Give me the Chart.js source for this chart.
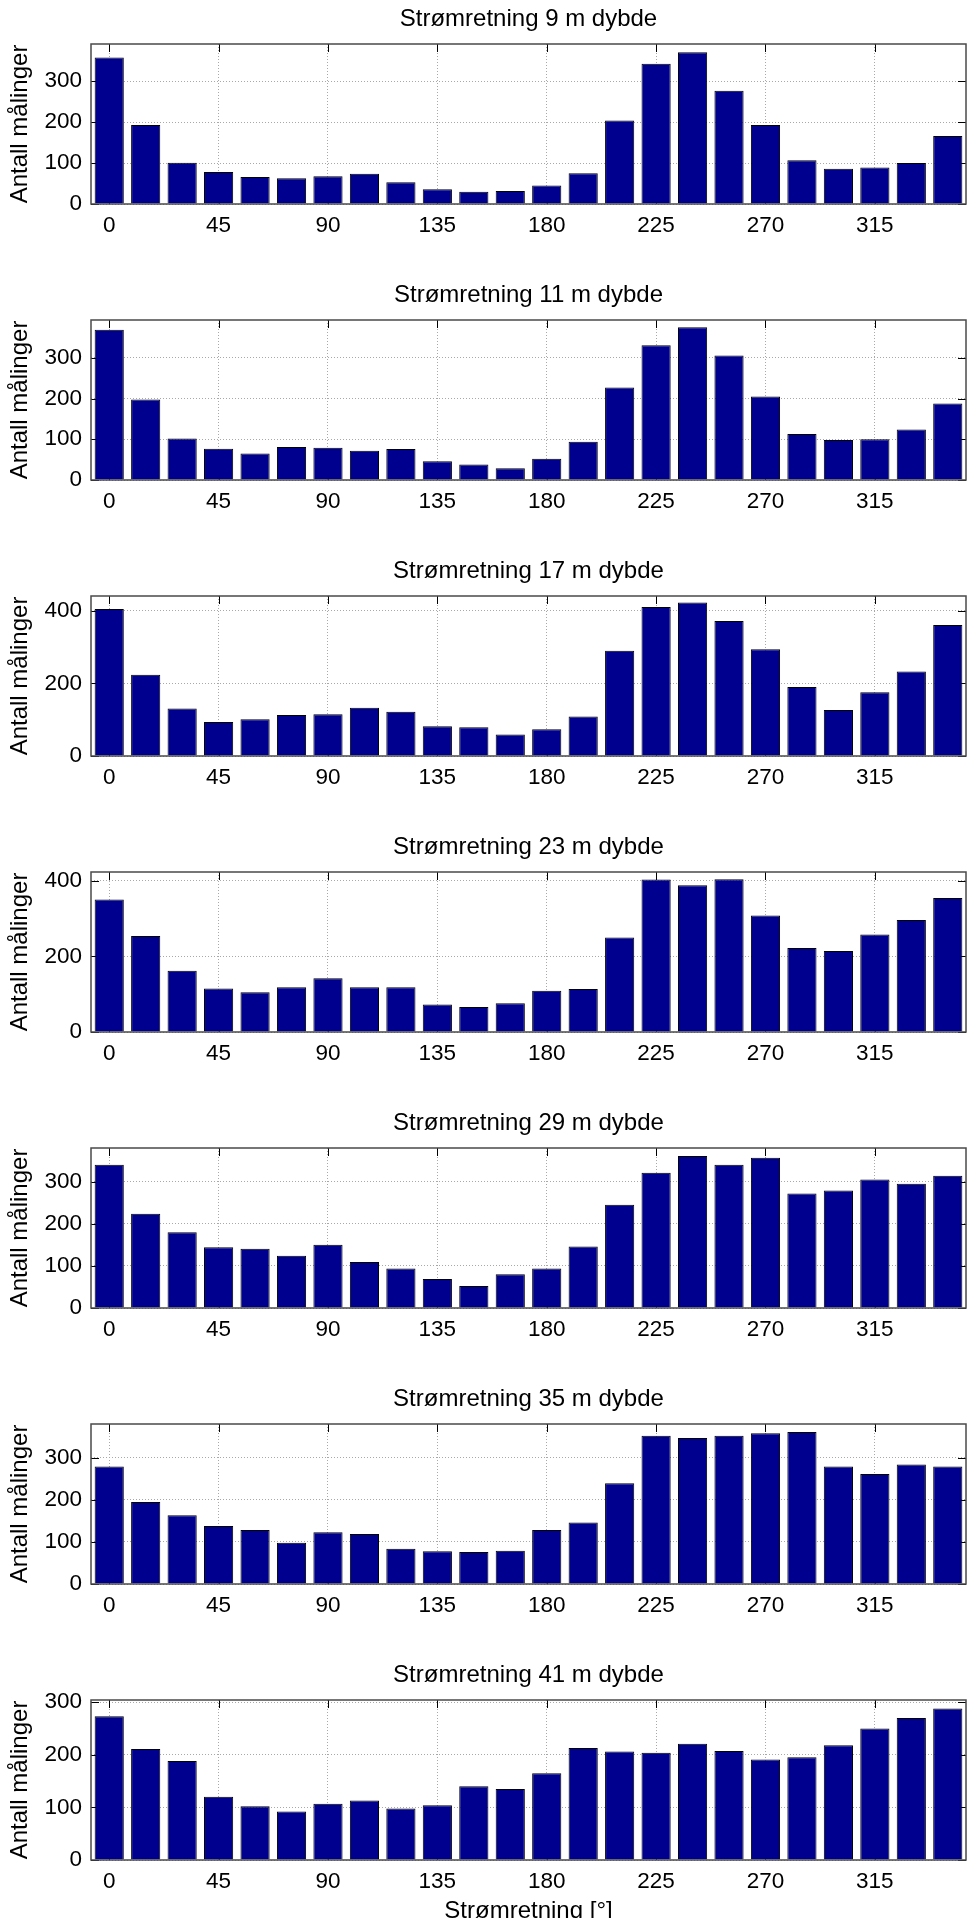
<!DOCTYPE html>
<html>
<head>
<meta charset="utf-8">
<script src="https://cdn.jsdelivr.net/npm/chart.js@4.4.1/dist/chart.umd.min.js"></script>
<style>
html, body { margin: 0; padding: 0; background: #ffffff; overflow: hidden; width: 976px; height: 1918px; }
canvas { position: absolute; left: 0; display: block; }
</style>
</head>
<body>
<script>
// ---------- data ----------
const directions = [0, 15, 30, 45, 60, 75, 90, 105, 120, 135, 150, 165, 180, 195, 210, 225, 240, 255, 270, 285, 300, 315, 330, 345];
const depths = [9, 11, 17, 23, 29, 35, 41];

const counts9m  = [358, 193, 101, 78, 66, 63, 68, 74, 53, 36, 30, 32, 45, 75, 204, 343, 371, 277, 193, 107, 86, 89, 100, 166];
const counts11m = [369, 198, 102, 77, 65, 81, 79, 72, 76, 46, 38, 29, 52, 94, 227, 331, 375, 306, 205, 113, 98, 100, 124, 188];
const counts17m = [405, 224, 131, 94, 101, 113, 115, 133, 122, 82, 79, 59, 74, 109, 290, 411, 423, 372, 294, 190, 127, 176, 233, 361];
const counts23m = [350, 254, 162, 115, 105, 118, 142, 118, 118, 73, 66, 76, 109, 114, 250, 403, 388, 404, 308, 222, 214, 258, 296, 354];
const counts29m = [340, 224, 180, 144, 141, 124, 150, 109, 94, 69, 52, 80, 94, 146, 245, 321, 361, 340, 357, 272, 279, 305, 295, 314];
const counts35m = [279, 195, 163, 138, 128, 98, 123, 119, 84, 78, 76, 79, 128, 146, 239, 352, 347, 352, 358, 361, 279, 261, 284, 279];
const counts41m = [273, 211, 188, 120, 102, 92, 107, 113, 98, 104, 140, 135, 165, 213, 206, 204, 221, 207, 191, 195, 218, 250, 270, 288];

const xTickValues = [0, 45, 90, 135, 180, 225, 270, 315];
const yTicks100 = [0, 100, 200, 300];
const yTicks200 = [0, 200, 400];
const yLimits = [391, 393, 441, 423, 380, 380, 304];
const xLimits = [-7.5, 352.5];

const titlePrefix = 'Strømretning ';
const titleSuffix = ' m dybde';
const yLabel = 'Antall målinger';
const xLabel = 'Strømretning [°]';

const seriesByDepth = [counts9m, counts11m, counts17m, counts23m, counts29m, counts35m, counts41m];
const yTicksByDepth = [yTicks100, yTicks100, yTicks200, yTicks200, yTicks100, yTicks100, yTicks100];

// ---------- styling / layout ----------
const FONT = '"Liberation Sans", Arial, Helvetica, sans-serif';
const BAR_FILL = 'rgb(0,0,143)';
const PANEL_STEP = 276;
const PLOT_BOTTOM = 204;
const TICK_LEN = 8;

const framePlugin = {
  id: 'matlabFrame',
  beforeDatasetsDraw(chart) {
    const { ctx, chartArea: a, scales: { x, y } } = chart;
    ctx.save();
    ctx.strokeStyle = '#000';
    ctx.lineWidth = 1;
    ctx.beginPath();
    x.ticks.forEach(t => {
      const px = Math.round(x.getPixelForValue(t.value)) + 0.5;
      ctx.moveTo(px, a.top); ctx.lineTo(px, a.top + TICK_LEN);
      ctx.moveTo(px, a.bottom); ctx.lineTo(px, a.bottom - TICK_LEN);
    });
    y.ticks.forEach(t => {
      const py = Math.round(y.getPixelForValue(t.value)) + 0.5;
      ctx.moveTo(a.left, py); ctx.lineTo(a.left + TICK_LEN, py);
      ctx.moveTo(a.right, py); ctx.lineTo(a.right - TICK_LEN, py);
    });
    ctx.stroke();
    ctx.restore();
  },
  afterDatasetsDraw(chart) {
    const { ctx, chartArea: a } = chart;
    ctx.save();
    ctx.strokeStyle = '#4a4a4a';
    ctx.lineWidth = 1.5;
    ctx.strokeRect(a.left, a.top, a.right - a.left, a.bottom - a.top);
    ctx.restore();
  }
};

depths.forEach((depth, i) => {
  const isLast = i === depths.length - 1;
  const h = isLast ? 290 : PANEL_STEP;
  const canvas = document.createElement('canvas');
  canvas.width = 976;
  canvas.height = h;
  canvas.style.top = (PANEL_STEP * i) + 'px';
  canvas.style.width = '976px';
  canvas.style.height = h + 'px';
  document.body.appendChild(canvas);

  const values = seriesByDepth[i];
  const yTicks = yTicksByDepth[i];

  new Chart(canvas, {
    type: 'bar',
    data: {
      datasets: [{
        data: directions.map((d, k) => ({ x: d, y: values[k] })),
        backgroundColor: BAR_FILL,
        borderColor: '#000',
        borderWidth: 1,
        borderSkipped: 'start',
        barPercentage: 0.8,
        categoryPercentage: 1.0
      }]
    },
    plugins: [framePlugin],
    options: {
      responsive: false,
      animation: false,
      devicePixelRatio: 1,
      events: [],
      layout: { padding: { left: 0, right: 10, top: 0, bottom: 0 } },
      plugins: {
        legend: { display: false },
        tooltip: { enabled: false },
        title: {
          display: true,
          text: titlePrefix + depth + titleSuffix,
          fullSize: false,
          color: '#000',
          font: { family: FONT, size: 24, weight: 'normal' },
          padding: { top: 4.6, bottom: 10.6 }
        }
      },
      scales: {
        x: {
          type: 'linear',
          offset: false,
          min: xLimits[0],
          max: xLimits[1],
          afterBuildTicks: s => { s.ticks = xTickValues.map(v => ({ value: v })); },
          afterFit: s => { s.height = h - PLOT_BOTTOM; },
          ticks: {
            color: '#000',
            font: { family: FONT, size: 22.5 },
            padding: 8.6,
            maxRotation: 0,
            autoSkip: false,
            includeBounds: false,
            callback: v => String(v)
          },
          grid: { color: '#a8a8a8', lineWidth: 1, drawTicks: false, offset: false },
          border: { display: false, dash: [1, 2] },
          title: {
            display: isLast,
            text: xLabel,
            color: '#000',
            font: { family: FONT, size: 24 },
            padding: { top: 0, bottom: 20.6 }
          }
        },
        y: {
          type: 'linear',
          min: 0,
          max: yLimits[i],
          afterBuildTicks: s => { s.ticks = yTicks.map(v => ({ value: v })); },
          afterFit: s => { s.width = 91; },
          ticks: {
            color: '#000',
            font: { family: FONT, size: 22.5 },
            padding: 9,
            includeBounds: false,
            callback: v => String(v)
          },
          grid: { color: '#a8a8a8', lineWidth: 1, drawTicks: false },
          border: { display: false, dash: [1, 2] },
          title: {
            display: true,
            text: yLabel,
            color: '#000',
            font: { family: FONT, size: 24 },
            padding: { top: 5.6, bottom: 0 }
          }
        }
      }
    }
  });
});
</script>
</body>
</html>
